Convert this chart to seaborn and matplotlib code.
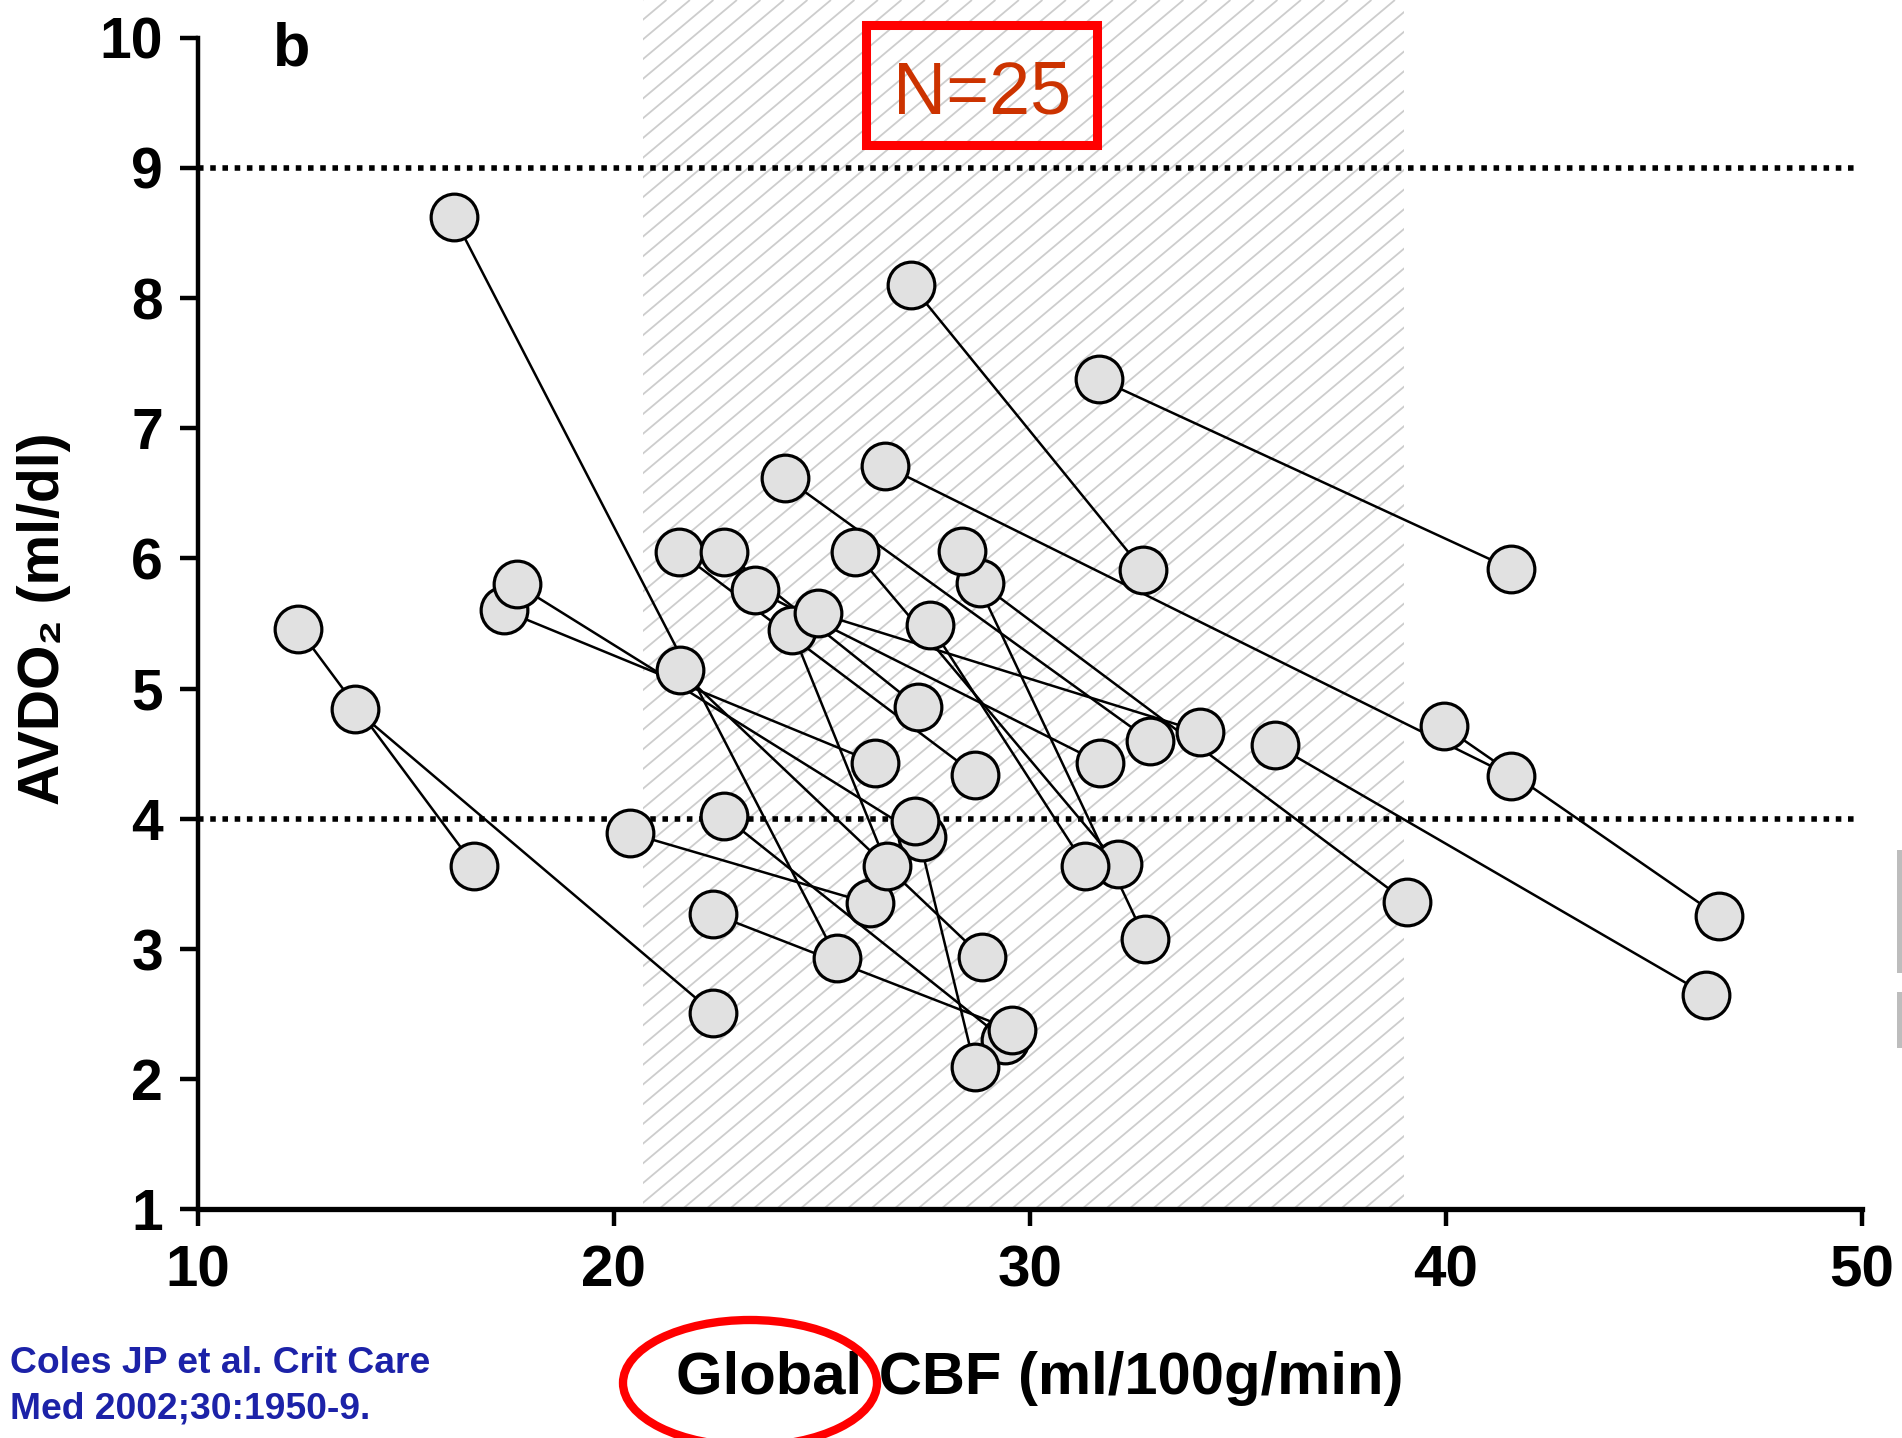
import numpy as np
import pandas as pd
import matplotlib
matplotlib.use("Agg")
import matplotlib.pyplot as plt
import seaborn as sns
from matplotlib.patches import Rectangle, Ellipse

# Paired measurements for 25 patients: global CBF (ml/100g/min) and AVDO2 (ml/dl).
# Each patient contributes two points joined by a line.
cbf_first = [12.42, 13.79, 16.16, 17.37, 17.67, 21.59, 22.65, 22.39, 20.39, 25.80,
             24.28, 27.15, 26.53, 31.65, 35.89, 24.91, 28.81, 24.12, 27.60, 28.37,
             21.57, 22.65, 23.39, 27.24, 39.95]
avdo2_first = [5.46, 4.84, 8.62, 5.60, 5.80, 5.14, 4.02, 3.27, 3.89, 6.05,
               5.45, 8.10, 6.71, 7.38, 4.57, 5.58, 5.81, 6.62, 5.49, 6.06,
               6.05, 6.05, 5.76, 3.98, 4.71]
cbf_second = [16.65, 22.39, 25.36, 26.28, 27.41, 28.85, 29.40, 29.57, 26.16, 32.12,
              26.57, 32.72, 41.56, 41.56, 46.25, 34.09, 39.06, 32.89, 31.33, 32.77,
              28.69, 27.31, 31.69, 28.68, 46.56]
avdo2_second = [3.64, 2.51, 2.93, 4.43, 3.86, 2.94, 2.30, 2.38, 3.35, 3.65,
                3.64, 5.91, 4.33, 5.92, 2.65, 4.67, 3.36, 4.60, 3.64, 3.08,
                4.34, 4.86, 4.43, 2.09, 3.25]

x_ticks = [10, 20, 30, 40, 50]
y_ticks = [1, 2, 3, 4, 5, 6, 7, 8, 9, 10]
normal_cbf_band = (20.7, 39.0)      # hatched band of normal global CBF
avdo2_limits = [4, 9]               # dotted AVDO2 reference levels

patients = np.arange(len(cbf_first))
df = pd.concat([
    pd.DataFrame({"patient": patients, "cbf": cbf_first, "avdo2": avdo2_first, "order": 0}),
    pd.DataFrame({"patient": patients, "cbf": cbf_second, "avdo2": avdo2_second, "order": 1}),
]).sort_values(["patient", "order"]).reset_index(drop=True)

sns.set_theme(style="ticks")
plt.rcParams["font.family"] = ["Liberation Sans", "DejaVu Sans"]
plt.rcParams["font.weight"] = "bold"

W, H, DPI = 1902, 1438, 100
fig = plt.figure(figsize=(W / DPI, H / DPI), dpi=DPI)
fig.patch.set_facecolor("white")

x_left, x_right = 197.7, 1862.0
y_bottom_px = 1209.4
ax = fig.add_axes([x_left / W, 1 - y_bottom_px / H, (x_right - x_left) / W, y_bottom_px / H])
ax.set_facecolor("white")
px_per_y = y_bottom_px / 9.289
ax.set_xlim(10, 50)
ax.set_ylim(1, 1 + y_bottom_px / px_per_y)
ytop = ax.get_ylim()[1]

# hatched band (diagonal hairlines clipped to the band)
x0, x1 = normal_cbf_band
band = Rectangle((x0, 1), x1 - x0, ytop - 1, transform=ax.transData, fill=False, lw=0)
px_per_x = (x_right - x_left) / 40.0
theta = np.deg2rad(40)
slope = np.tan(theta) * px_per_x / px_per_y
step = 23.5 / px_per_x
run = (ytop - 1) / slope
for c in np.arange(x0 - run - step, x1 + step, step):
    ln, = ax.plot([c, c + run], [1, ytop], color="#cdcdcd", lw=1.3, zorder=0.5,
                  solid_capstyle="butt")
    ln.set_clip_path(band)

# dotted reference levels
for lvl in avdo2_limits:
    ax.plot([10, 49.9], [lvl, lvl], color="black", lw=4.0, linestyle=(0, (1, 1.2)),
            dash_capstyle="butt", zorder=1)

sns.lineplot(data=df, x="cbf", y="avdo2", units="patient", estimator=None, sort=False,
             color="black", lw=1.8, ax=ax, legend=False, zorder=2)
sns.scatterplot(data=df, x="cbf", y="avdo2", s=1130, color="#e1e1e1", edgecolor="black",
                linewidth=2.3, ax=ax, legend=False, zorder=3)

ax.set_xlabel("")
ax.set_ylabel("")
ax.set_xticks(x_ticks)
ax.set_yticks(y_ticks)
ax.set_xticklabels([str(t) for t in x_ticks], fontsize=42, fontweight="bold")
ax.set_yticklabels([str(t) for t in y_ticks], fontsize=41, fontweight="bold")
ax.tick_params(axis="y", direction="out", length=13, width=3.2, pad=12, colors="black")
ax.tick_params(axis="x", direction="out", length=12, width=3.2, pad=13, colors="black")
for s in ["top", "right"]:
    ax.spines[s].set_visible(False)
ax.spines["left"].set_linewidth(3.2)
ax.spines["bottom"].set_linewidth(3.8)
ax.spines["left"].set_color("black")
ax.spines["bottom"].set_color("black")
ax.spines["left"].set_bounds(1, 10)
ax.spines["bottom"].set_bounds(10, 50)

# labels
fig.text(44 / W, 1 - 619 / H, "AVDO\u2082 (ml/dl)", rotation=90, ha="center", va="center",
         fontsize=41, fontweight="bold", color="black")
fig.text(1040 / W, 1 - 1379 / H, "Global CBF (ml/100g/min)", ha="center", va="center",
         fontsize=43, fontweight="bold", color="black")
fig.text(292 / W, 1 - 50 / H, "b", ha="center", va="center", fontsize=44,
         fontweight="bold", color="black")

# sample size box
fig.text(982 / W, 1 - 113 / H, "N=25", ha="center", va="baseline", fontsize=53,
         fontweight="normal", color="#cc3300")
fig.patches.append(Rectangle((866 / W, 1 - 145 / H), 231 / W, 120 / H, transform=fig.transFigure,
                             fill=False, edgecolor="#ff0000", lw=6.5, zorder=5))

# highlight around "Global"
fig.patches.append(Ellipse((750 / W, 1 - 1383 / H), 254 / W, 126 / H, transform=fig.transFigure,
                           fill=False, edgecolor="#ff0000", lw=6.0, zorder=5))

# citation
fig.text(10 / W, 1 - 1373 / H, "Coles JP et al. Crit Care", ha="left", va="baseline",
         fontsize=26.8, fontweight="bold", color="#1c22a8")
fig.text(10 / W, 1 - 1418 / H, "Med 2002;30:1950-9.", ha="left", va="baseline",
         fontsize=26.8, fontweight="bold", color="#1c22a8")

# grey slivers on the right margin
for (yt, yb) in [(850, 973), (992, 1048)]:
    fig.patches.append(Rectangle((1897 / W, 1 - yb / H), 5 / W, (yb - yt) / H,
                                 transform=fig.transFigure, color="#bdbdbd", lw=0))

fig.savefig("out.png", dpi=DPI, facecolor="white")
